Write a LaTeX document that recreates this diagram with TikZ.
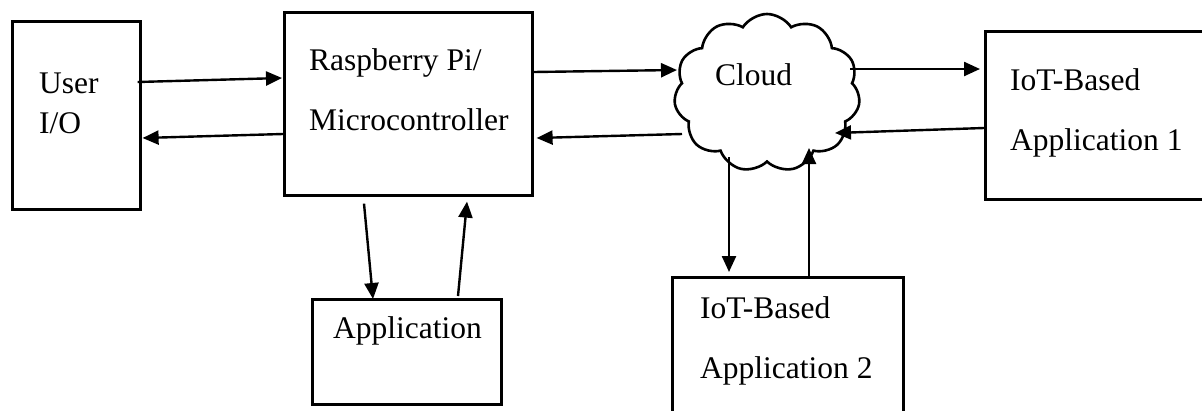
\documentclass[tikz,border=0pt]{standalone}
\usepackage{fontspec}
\setmainfont{Liberation Serif}
\usepackage{tikz}
\usetikzlibrary{arrows.meta,positioning,calc,shapes.symbols}

\begin{document}
\begin{tikzpicture}[x=1pt, y=-1pt,
  box/.style={draw, line width=2.6pt, rectangle, inner sep=0pt, anchor=north west},
  lbl/.style={anchor=base west, inner sep=0pt, font=\fontsize{31.5}{38}\selectfont},
  arr/.style={line width=2.4pt, -{Triangle[length=16pt,width=14pt]}}]
\clip (0,0) rectangle (1202,410);
% boxes
\node[box, minimum width=128pt, minimum height=188pt] (uio) at (11,20) {};
\node[box, minimum width=248pt, minimum height=183pt] (pi) at (283,11) {};
\node[box, minimum width=189pt, minimum height=105pt] (appl) at (311,298) {};
\node[box, minimum width=240pt, minimum height=168pt] (iot1) at (984,30) {};
\node[box, minimum width=231pt, minimum height=160pt] (iot2) at (671,276) {};
\node[draw, line width=2.6pt, cloud, cloud puffs=11, cloud puff arc=115, inner sep=0pt,
  minimum width=186pt, minimum height=158pt] (cloud) at (767,93) {};
% labels
\node[lbl] (uioa) at ([shift={(28,73)}]uio.north west) {User};
\node[lbl] (uiob) at ([shift={(28,113)}]uio.north west) {I/O};
\node[lbl] (pia) at ([shift={(26,59)}]pi.north west) {Raspberry Pi/};
\node[lbl] (pib) at ([shift={(26,119)}]pi.north west) {Microcontroller};
\node[lbl] (appla) at ([shift={(22,40)}]appl.north west) {Application};
\node[lbl] (clouda) at ([shift={(-52,-8)}]cloud.center) {Cloud};
\node[lbl] (iot1a) at ([shift={(26,60)}]iot1.north west) {IoT-Based};
\node[lbl] (iot1b) at ([shift={(26,120)}]iot1.north west) {Application 1};
\node[lbl] (iot2a) at ([shift={(29,42)}]iot2.north west) {IoT-Based};
\node[lbl] (iot2b) at ([shift={(29,102)}]iot2.north west) {Application 2};
% connectors
\draw[arr] ([shift={(-4,62)}]uio.north east) -- ([shift={(-1,67)}]pi.north west);
\draw[arr] ([shift={(0,123)}]pi.north west) -- ([shift={(1,118)}]uio.north east);
\draw[arr] ([shift={(0,61)}]pi.north east) -- ([shift={(-90,-23)}]cloud.center);
\draw[arr] ([shift={(-85,41)}]cloud.center) -- ([shift={(3,127)}]pi.north east);
\draw[arr] ([shift={(83,-24)}]cloud.center) -- ([shift={(-4,39)}]iot1.north west);
\draw[arr] ([shift={(0,98)}]iot1.north west) -- ([shift={(68,40)}]cloud.center);
\draw[arr] ([shift={(-38,64)}]cloud.center) -- ([shift={(58,-4)}]iot2.north west);
\draw[arr] ([shift={(138,0)}]iot2.north west) -- ([shift={(42,55)}]cloud.center);
\draw[arr] ([shift={(81,7)}]pi.south west) -- ([shift={(62,1)}]appl.north west);
\draw[arr] ([shift={(147,-2)}]appl.north west) -- ([shift={(184,5)}]pi.south west);
\end{tikzpicture}
\end{document}
